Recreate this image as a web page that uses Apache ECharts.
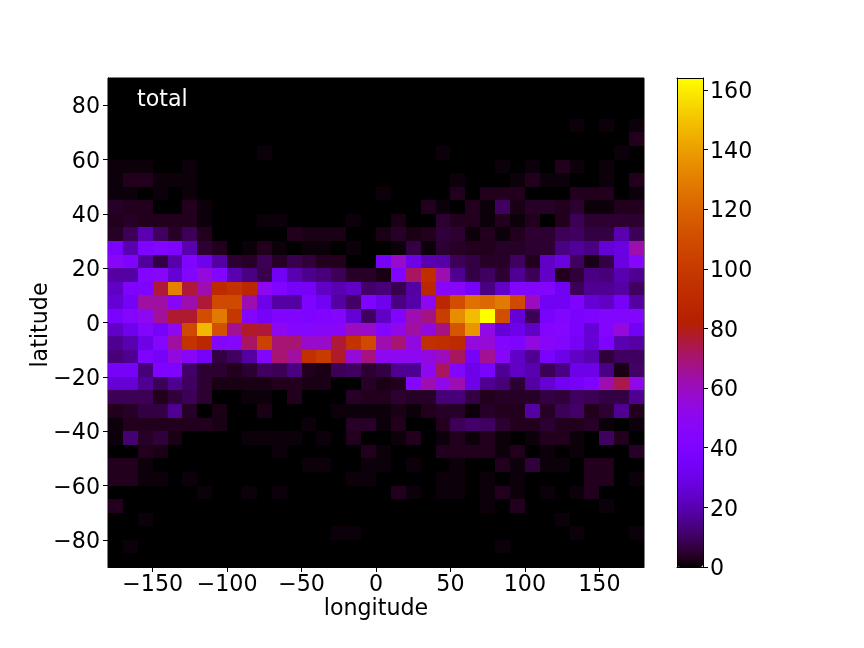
<!DOCTYPE html>
<html>
<head>
<meta charset="utf-8">
<style>html,body{margin:0;padding:0;background:#fff}#main{width:864px;height:648px}</style>
<script src="https://cdn.jsdelivr.net/npm/echarts@6/dist/echarts.min.js"></script>
</head>
<body>
<div id="main"></div>
<script>
var lonStep = 10, latStep = 5, lonStart = -180, latTop = 90
var lonTicks = [-150, -100, -50, 0, 50, 100, 150]
var latTicks = [-80, -60, -40, -20, 0, 20, 40, 60, 80]
var barTicks = [0, 20, 40, 60, 80, 100, 120, 140, 160]
var maxCount = 164
// counts per cell, first row is lat 85..90, first column is lon -180..-170
var counts = [
	[0,0,0,0,0,0,0,0,0,0,0,0,0,0,0,0,0,0,0,0,0,0,0,0,0,0,0,0,0,0,0,0,0,0,0,0],
	[0,0,0,0,0,0,0,0,0,0,0,0,0,0,0,0,0,0,0,0,0,0,0,0,0,0,0,0,0,0,0,0,0,0,0,0],
	[0,0,0,0,0,0,0,0,0,0,0,0,0,0,0,0,0,0,0,0,0,0,0,0,0,0,0,0,0,0,0,0,0,0,0,0],
	[0,0,0,0,0,0,0,0,0,0,0,0,0,0,0,0,0,0,0,0,0,0,0,0,0,0,0,0,0,0,0,1,0,1,0,1],
	[0,0,0,0,0,0,0,0,0,0,0,0,0,0,0,0,0,0,0,0,0,0,0,0,0,0,0,0,0,0,0,0,0,0,0,3],
	[0,0,0,0,0,0,0,0,0,0,1,0,0,0,0,0,0,0,0,0,0,0,1,0,0,0,0,0,0,0,0,0,0,0,1,0],
	[1,1,1,0,0,1,0,0,0,0,0,0,0,0,0,0,0,0,0,0,0,0,0,0,0,0,1,0,1,0,3,1,0,1,0,0],
	[1,3,3,1,1,1,0,0,0,0,0,0,0,0,0,0,0,0,0,0,0,0,0,1,0,0,0,1,3,1,1,0,0,1,0,3],
	[1,1,0,1,0,1,0,0,0,0,0,0,0,0,0,0,0,0,1,0,0,0,0,3,0,3,3,3,0,0,0,3,3,3,0,1],
	[4,3,3,0,0,3,1,0,0,0,0,0,0,0,0,0,0,0,0,0,0,3,1,0,3,1,10,2,4,4,3,5,1,1,3,3],
	[3,4,3,3,3,3,1,0,0,0,1,1,0,0,0,0,1,0,0,2,0,0,5,3,3,1,3,1,3,0,3,9,5,5,5,5],
	[4,9,20,10,4,9,3,0,0,0,0,0,3,2,2,2,0,0,2,4,2,3,6,5,1,3,1,3,5,5,9,10,7,7,20,9],
	[38,20,40,43,40,20,5,3,0,1,3,1,0,1,1,0,1,0,0,1,7,1,5,4,3,3,4,4,5,5,14,17,14,26,28,62],
	[47,40,17,7,19,41,31,18,5,4,9,4,8,6,3,3,0,0,35,58,30,20,19,9,7,4,4,10,3,23,28,10,2,7,28,45],
	[18,18,43,46,26,43,55,43,20,14,8,33,20,15,13,9,4,4,2,41,72,93,62,16,7,10,5,16,9,23,3,6,14,13,20,16],
	[23,40,40,76,131,76,62,90,95,88,50,41,35,35,23,20,23,11,13,8,18,88,47,46,35,14,23,43,43,43,33,9,16,16,18,10],
	[26,34,64,64,47,62,76,108,108,62,30,18,18,40,33,18,11,40,31,14,19,50,88,110,125,122,128,108,60,33,33,40,26,23,35,18],
	[38,45,50,65,77,77,110,128,98,43,35,41,41,40,41,44,26,10,23,41,62,68,102,135,148,164,110,26,9,38,43,38,40,43,43,43],
	[23,31,43,35,50,108,147,112,66,78,76,50,45,45,47,47,60,58,43,52,64,54,68,114,137,53,26,30,23,44,45,38,26,44,55,33],
	[16,20,30,45,64,96,88,43,45,72,104,70,70,58,58,76,96,108,62,70,54,94,93,90,55,56,43,40,54,47,43,35,26,40,20,18],
	[13,16,40,35,54,47,35,7,10,18,43,70,64,94,100,78,56,68,50,50,50,54,60,72,35,66,47,23,16,38,30,23,20,6,10,10],
	[35,35,13,40,40,11,5,5,3,5,10,9,14,3,2,9,10,5,7,16,16,50,72,43,30,38,16,23,20,9,14,30,30,14,2,11],
	[26,26,16,9,16,10,5,2,2,2,2,3,3,2,2,0,0,4,2,3,45,62,52,62,30,16,13,5,18,26,33,35,40,62,74,52],
	[9,9,9,3,6,9,5,0,0,1,1,0,3,0,0,0,4,3,3,5,4,4,13,13,7,3,4,4,4,7,6,10,9,7,7,16],
	[3,4,7,7,16,4,0,2,0,0,2,0,0,0,0,1,1,1,1,2,1,3,4,4,1,4,3,3,18,4,9,11,3,5,16,3],
	[1,3,3,3,3,3,3,2,0,0,0,0,0,1,0,0,4,4,1,3,0,0,3,9,11,10,5,3,3,5,3,3,4,1,0,1],
	[1,12,4,6,2,0,0,0,0,1,1,1,1,0,1,0,3,0,0,1,3,0,1,3,1,3,1,0,1,3,3,1,0,10,3,0],
	[0,0,3,2,0,0,0,0,0,0,0,1,0,0,0,0,0,3,1,0,0,0,3,3,3,3,1,3,0,1,0,1,0,0,0,4],
	[3,3,1,0,0,0,0,0,0,0,0,0,0,1,1,0,0,1,1,0,1,0,0,1,0,0,3,1,6,1,1,0,3,3,0,0],
	[3,3,1,1,0,1,0,0,0,0,0,0,0,0,0,0,1,1,0,0,0,0,1,1,0,1,0,1,0,0,0,0,3,3,0,1],
	[0,0,0,0,0,0,1,0,0,1,0,1,0,0,0,0,0,0,0,3,1,0,1,1,0,1,3,1,0,1,0,1,3,0,0,0],
	[3,0,0,0,0,0,0,0,0,0,0,0,0,0,0,0,0,0,0,0,0,0,0,0,0,1,0,3,0,0,0,0,0,1,0,0],
	[0,0,1,0,0,0,0,0,0,0,0,0,0,0,0,0,0,0,0,0,0,0,0,0,0,0,0,0,0,0,1,0,0,0,0,0],
	[0,0,0,0,0,0,0,0,0,0,0,0,0,0,0,1,1,0,0,0,0,0,0,0,0,0,0,0,0,0,0,1,0,0,0,1],
	[0,1,0,0,0,0,0,0,0,0,0,0,0,0,0,0,0,0,0,0,0,0,0,0,0,0,1,0,0,0,0,0,0,0,0,0],
	[0,0,0,0,0,0,0,0,0,0,0,0,0,0,0,0,0,0,0,0,0,0,0,0,0,0,0,0,0,0,0,0,0,0,0,0]
]
var labelFont = 'DejaVu Sans'
var labelSize = 22.2

// same colours as matplotlib gnuplot map
function gnuplotStops() {
	var stops = []
	for (var i = 0; i <= 64; i++) {
		var x = i / 64
		var r = Math.round(255 * Math.sqrt(x))
		var g = Math.round(255 * x * x * x)
		var b = Math.round(255 * Math.max(0, Math.sin(2 * Math.PI * x)))
		stops.push('rgb(' + r + ',' + g + ',' + b + ')')
	}
	return stops
}

function minusFormat(v) {
	return String(v).replace('-', '\u2212')
}

var cells = []
counts.forEach(function(row, r) {
	row.forEach(function(val, c) {
		cells.push([lonStart + c * lonStep, latTop - (r + 1) * latStep, val])
	})
})

function renderCell(params, api) {
	var p0 = api.coord([api.value(0), api.value(1) + latStep])
	var p1 = api.coord([api.value(0) + lonStep, api.value(1)])
	// snap to whole pixels or the black background shows in the seams
	var x0 = Math.round(p0[0]), y0 = Math.round(p0[1])
	var x1 = Math.round(p1[0]), y1 = Math.round(p1[1])
	return {
		type: 'rect',
		shape: { x: x0, y: y0, width: x1 - x0, height: y1 - y0 },
		style: { fill: api.visual('color') }
	}
}

var tickLine = { show: true, length: 5, lineStyle: { color: '#000', width: 1 } }
var axisText = { color: '#000', fontFamily: labelFont, fontSize: labelSize, margin: 7 }
var frameLine = { show: true, onZero: false, lineStyle: { color: '#000', width: 1 } }
// labels sit a bit high with middle align, push them down to the tick
var sideText = { color: '#000', fontFamily: labelFont, fontSize: labelSize, margin: 8, verticalAlign: 'top', padding: [-8.5, 0, 0, 0] }

var chart = echarts.init(document.getElementById('main'), null, { renderer: 'canvas' })
chart.setOption({
	animation: false,
	backgroundColor: '#fff',
	title: {
		text: 'total',
		left: 137,
		top: 89,
		padding: 0,
		textStyle: { color: '#fff', fontFamily: labelFont, fontSize: labelSize, fontWeight: 'normal' }
	},
	graphic: [{
		type: 'text',
		x: 41,
		y: 325,
		rotation: Math.PI / 2,
		style: { text: 'latitude', fill: '#000', font: labelSize + 'px ' + labelFont, align: 'center', verticalAlign: 'middle' }
	}],
	grid: [
		{ left: 108, top: 78, width: 536, height: 489, show: true, backgroundColor: '#000', borderColor: '#000', borderWidth: 1 },
		{ left: 677, top: 78, width: 26, height: 489, show: false, z: 10 }
	],
	xAxis: [
		{
			type: 'value', gridIndex: 0, min: -180, max: 180,
			name: 'longitude', nameLocation: 'middle', nameGap: 31, nameMoveOverlap: false,
			nameTextStyle: { color: '#000', fontFamily: labelFont, fontSize: labelSize },
			splitLine: { show: false },
			axisLine: frameLine,
			axisTick: Object.assign({ customValues: lonTicks }, tickLine),
			axisLabel: Object.assign({ customValues: lonTicks, formatter: minusFormat }, axisText)
		},
		{
			type: 'value', gridIndex: 1, min: 0, max: 1, z: 10,
			splitLine: { show: false },
			axisLine: frameLine,
			axisTick: { show: false },
			axisLabel: { show: false }
		},
		{
			type: 'value', gridIndex: 1, min: 0, max: 1, position: 'top', z: 10,
			splitLine: { show: false },
			axisLine: frameLine,
			axisTick: { show: false },
			axisLabel: { show: false }
		}
	],
	yAxis: [
		{
			type: 'value', gridIndex: 0, min: -90, max: 90,
			splitLine: { show: false },
			axisLine: frameLine,
			axisTick: Object.assign({ customValues: latTicks }, tickLine),
			axisLabel: Object.assign({ customValues: latTicks, formatter: minusFormat }, sideText)
		},
		{
			type: 'value', gridIndex: 1, min: 0, max: maxCount, position: 'right', z: 10,
			splitLine: { show: false },
			axisLine: frameLine,
			axisTick: Object.assign({ customValues: barTicks }, tickLine),
			axisLabel: Object.assign({ customValues: barTicks }, sideText, { margin: 7 })
		},
		{
			type: 'value', gridIndex: 1, min: 0, max: maxCount, position: 'left', z: 10,
			splitLine: { show: false },
			axisLine: frameLine,
			axisTick: { show: false },
			axisLabel: { show: false }
		}
	],
	visualMap: {
		type: 'continuous',
		seriesIndex: 0,
		dimension: 2,
		min: 0,
		max: maxCount,
		left: 677,
		top: 78,
		itemWidth: 26,
		itemHeight: 489,
		padding: 0,
		text: null,
		showLabel: false,
		calculable: false,
		hoverLink: false,
		inRange: { color: gnuplotStops() }
	},
	series: [{
		type: 'custom',
		xAxisIndex: 0,
		yAxisIndex: 0,
		silent: true,
		clip: true,
		encode: { x: 0, y: 1 },
		renderItem: renderCell,
		data: cells
	}]
})
</script>
</body>
</html>
